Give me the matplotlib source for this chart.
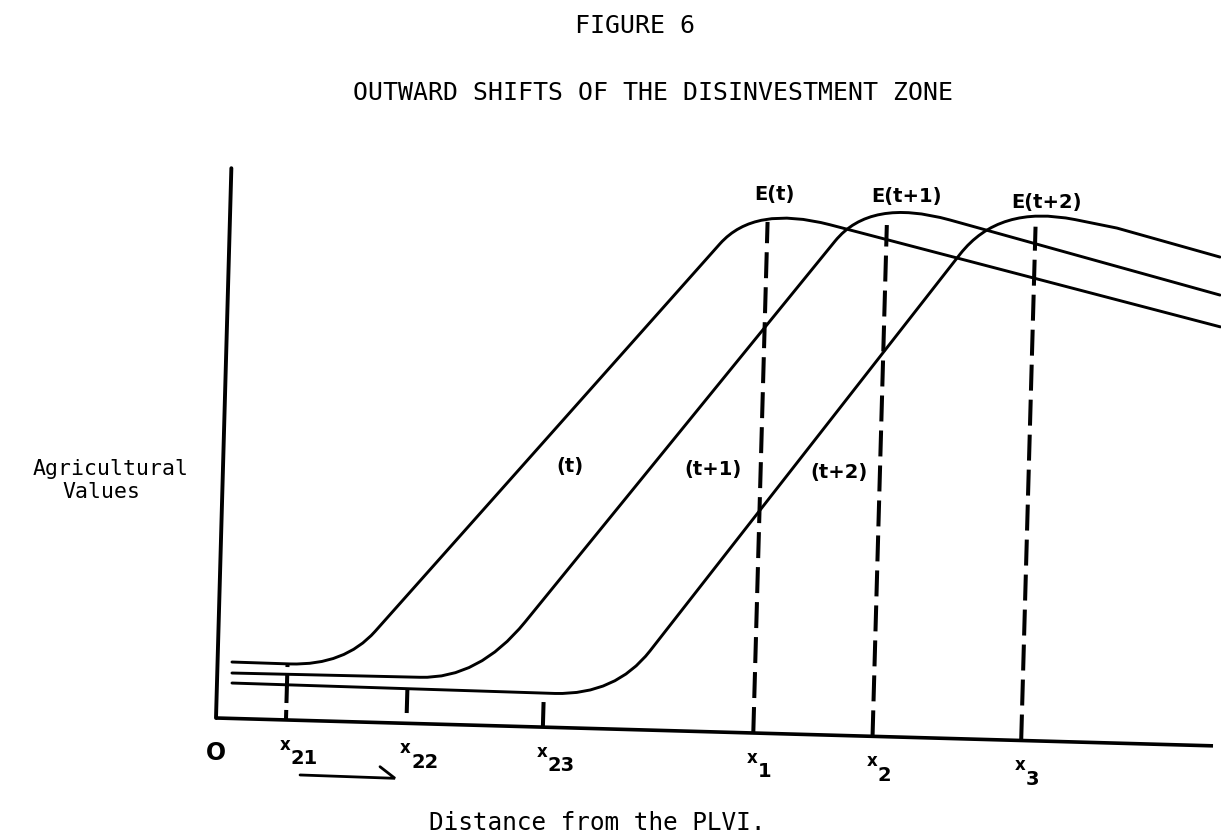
import numpy as np
import matplotlib
matplotlib.use("Agg")
import matplotlib.pyplot as plt
from matplotlib.path import Path
from matplotlib.patches import PathPatch
from matplotlib.transforms import Affine2D

plt.rcParams["lines.scale_dashes"] = False

# Agricultural value curves for three successive periods (distance, value).
# Knots: start, end of flat part, lower bend, start of rise, end of rise,
# crest, start of decline, (kink), right end.
curve_t_dist = [1.44, 7.25, 12.72, 15.66, 49.06, 52.40, 60.00, 99.31]
curve_t_val = [5.64, 5.61, 5.60, 9.10, 48.82, 52.78, 51.02, 41.90]
curve_t1_dist = [1.47, 20.28, 26.15, 30.62, 60.55, 63.94, 71.98, 99.18]
curve_t1_val = [4.54, 4.64, 4.63, 10.45, 49.40, 53.83, 51.83, 45.08]
curve_t2_dist = [1.50, 33.82, 39.88, 43.19, 73.08, 76.84, 84.48, 88.69, 99.07]
curve_t2_val = [3.54, 3.40, 3.42, 7.91, 48.44, 53.53, 52.22, 51.49, 48.88]

curve_labels = ["(t)", "(t+1)", "(t+2)"]
curve_label_dist = [34.69, 48.99, 61.59]
curve_label_val = [25.57, 25.67, 25.72]

# Equilibrium distances E(t), E(t+1), E(t+2)
peak_names = ["E(t)", "E(t+1)", "E(t+2)"]
peak_dist = [53.75, 65.68, 80.55]
peak_top = [51.13, 51.15, 51.40]
peak_ticks = ["1", "2", "3"]
peak_name_dist = [54.42, 67.56, 81.63]
peak_name_val = [53.33, 53.50, 53.29]

# Break-away distances where each curve starts to rise
break_dist = [7.0, 19.05, 32.7]
break_low = [0.0, 1.03, 0.0]
break_high = [5.50, 3.53, 2.51]
break_ticks = ["21", "22", "23"]

axis_len_dist = 99.74
axis_len_val = 55.0

# Direction-of-shift arrow under the distance axis
arrow_dist = [8.56, 18.06, 16.53]
arrow_val = [-5.46, -5.53, -4.41]

W, H = 1221, 836
fig = plt.figure(figsize=(W / 100, H / 100), dpi=100)
ax = fig.add_axes([0, 0, 1, 1])
ax.set_xlim(0, W)
ax.set_ylim(H, 0)
ax.axis("off")

# Diagram frame: slightly tilted, origin at the "O" corner
tilt = np.deg2rad(1.6)
c, s = np.cos(tilt), np.sin(tilt)
k = 10.0
diagram = Affine2D.from_values(k * c, k * s, k * s, -k * c, 216, 718) + ax.transData

ink = "black"

# Axes
ax.plot([0, axis_len_dist], [0, 0], transform=diagram, color=ink, lw=2.6,
        solid_capstyle="butt")
ax.plot([0, 0], [0, axis_len_val], transform=diagram, color=ink, lw=2.8,
        solid_capstyle="round")

# Value curves as smooth paths
codes8 = [Path.MOVETO, Path.LINETO, Path.CURVE3, Path.CURVE3,
          Path.LINETO, Path.CURVE3, Path.CURVE3, Path.LINETO]
codes9 = codes8 + [Path.LINETO]
for du, dv, codes in [(curve_t_dist, curve_t_val, codes8),
                      (curve_t1_dist, curve_t1_val, codes8),
                      (curve_t2_dist, curve_t2_val, codes9)]:
    path = Path(np.column_stack([du, dv]), codes)
    ax.add_patch(PathPatch(path, transform=diagram, fill=False, ec=ink,
                           lw=2.1, capstyle="round", joinstyle="round"))

# Dashed equilibrium verticals
for d, top in zip(peak_dist, peak_top):
    ax.plot([d, d], [0, top], transform=diagram, color=ink, lw=2.9,
            dashes=(18.7, 6.5), dash_capstyle="butt")

# Break-away markers
ax.plot([break_dist[0]] * 2, [break_low[0], break_high[0]], transform=diagram,
        color=ink, lw=2.9, dashes=(7.2, 5.0, 21.6, 4.3), dash_capstyle="butt")
for d, lo, hi in zip(break_dist[1:], break_low[1:], break_high[1:]):
    ax.plot([d, d], [lo, hi], transform=diagram, color=ink, lw=2.9,
            solid_capstyle="butt")

# Tick labels: small x with larger subscript digits
lab_font = dict(family="DejaVu Sans", fontweight="bold", color=ink)
for d, lab in zip(break_dist + peak_dist, break_ticks + peak_ticks):
    ax.text(d, -3.0, "x", transform=diagram, ha="center", va="baseline",
            fontsize=12, **lab_font)
    ax.text(d + 0.6, -4.42, lab, transform=diagram, ha="left", va="baseline",
            fontsize=14, **lab_font)

ax.text(0.1, -4.21, "O", transform=diagram, ha="center", va="baseline",
        fontsize=17, **lab_font)

for d, v, name in zip(peak_name_dist, peak_name_val, peak_names):
    ax.text(d, v, name, transform=diagram, ha="center", va="baseline",
            fontsize=14, **lab_font)

for d, v, name in zip(curve_label_dist, curve_label_val, curve_labels):
    ax.text(d, v, name, transform=diagram, ha="center", va="baseline",
            fontsize=14, **lab_font)

ax.plot(arrow_dist, arrow_val, transform=diagram, color=ink, lw=2.0,
        solid_capstyle="round", solid_joinstyle="miter")

# Typed titles and axis captions
mono = dict(family="DejaVu Sans Mono", color=ink)
ax.text(635, 33, "FIGURE 6", ha="center", va="baseline", fontsize=17.9, **mono)
ax.text(653, 100, "OUTWARD SHIFTS OF THE DISINVESTMENT ZONE", ha="center",
        va="baseline", fontsize=17.9, **mono)
ax.text(111, 475, "Agricultural", ha="center", va="baseline", fontsize=15.5, **mono)
ax.text(101.5, 498, "Values", ha="center", va="baseline", fontsize=15.5, **mono)
ax.text(597, 830, "Distance from the PLVI.", ha="center", va="baseline",
        fontsize=17.6, **mono)

fig.savefig("out.png", dpi=100, facecolor="white")
